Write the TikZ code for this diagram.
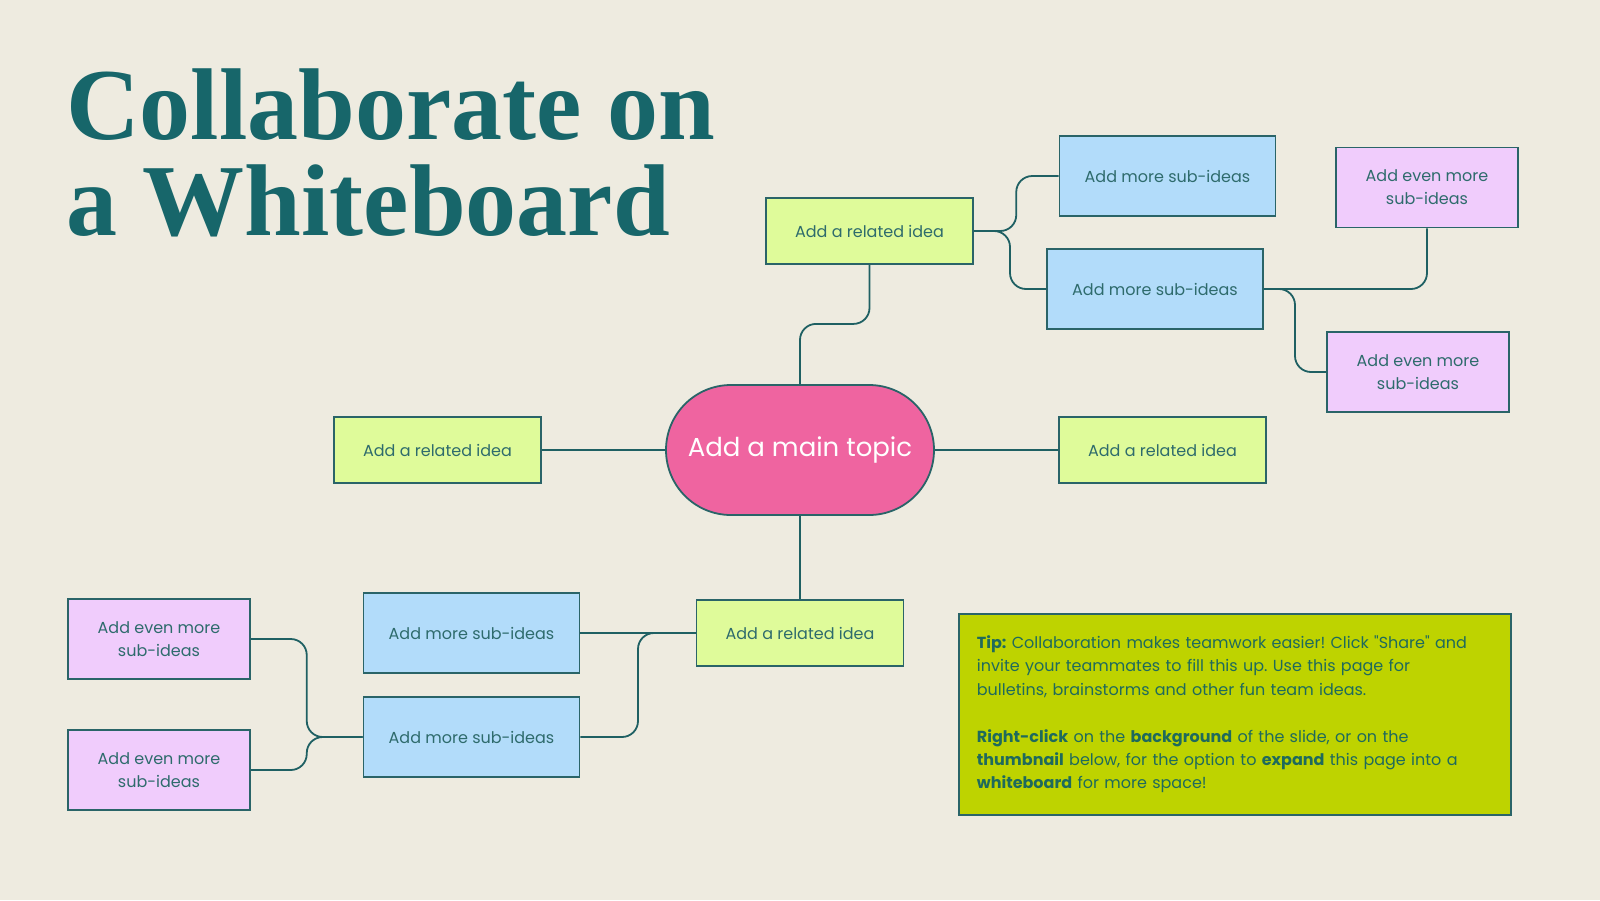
\documentclass[tikz,border=0pt]{standalone}
\usepackage{fontspec}
\setmainfont{Poppins}[Ligatures=TeXOff]
\newfontfamily\titlefont{Liberation Serif}
\usetikzlibrary{calc,shapes.misc}
\definecolor{bgc}{HTML}{EEEBE0}
\definecolor{titlec}{HTML}{17666A}
\definecolor{edgec}{HTML}{2A6468}
\definecolor{linec}{HTML}{1F6063}
\definecolor{txtc}{HTML}{2E6B6C}
\definecolor{relc}{HTML}{DFFB9A}
\definecolor{subc}{HTML}{B2DCFA}
\definecolor{evenc}{HTML}{F0CCFC}
\definecolor{mainc}{HTML}{EF64A0}
\definecolor{tipc}{HTML}{BED300}
\definecolor{tiptxt}{HTML}{1F6A5C}
\frenchspacing
\begin{document}
\begin{tikzpicture}[x=1pt,y=-1pt,
  box/.style={draw=edgec, line width=1.8pt, inner sep=0pt, text=txtc, align=center,
    font=\fontsize{16}{23}\selectfont},
  relbox/.style={box, fill=relc, minimum width=207pt, minimum height=66pt},
  subbox/.style={box, fill=subc, minimum width=216pt, minimum height=80pt},
  evenbox/.style={box, fill=evenc, minimum width=182pt, minimum height=80pt},
  conn/.style={draw=linec, line width=1.8pt, rounded corners=16pt},
  titletext/.style={anchor=base west, inner sep=0pt, text=titlec,
    font=\titlefont\bfseries\fontsize{102}{102}\selectfont}]
\useasboundingbox (0,0) rectangle (1600,900);
\fill[bgc] (0,0) rectangle (1600,900);

% title
\node[titletext] (t1) at (66,139) {Collaborate on};
\node[titletext] (t2) at (66,235) {a Whiteboard};

% nodes
\node[shape=rounded rectangle, draw=edgec, line width=1.8pt, fill=mainc,
  minimum width=268pt, minimum height=130pt, inner sep=0pt, text=white,
  font=\fontsize{26}{30}\selectfont] (main) at (800,450) {Add a main topic};

\node[relbox] (relT) at (869.5,231) {Add a related idea};
\node[relbox] (relL) at (437.5,450) {Add a related idea};
\node[relbox] (relR) at (1162.5,450) {Add a related idea};
\node[relbox] (relB) at (800,633) {Add a related idea};

\node[subbox] (subT1) at (1167.5,176) {Add more sub-ideas};
\node[subbox] (subT2) at (1155,289) {Add more sub-ideas};
\node[subbox] (subB1) at (471.5,633) {Add more sub-ideas};
\node[subbox] (subB2) at (471.5,737) {Add more sub-ideas};

\node[evenbox] (evT1) at (1427,187.5) {Add even more\\sub-ideas};
\node[evenbox] (evT2) at (1418,372) {Add even more\\sub-ideas};
\node[evenbox] (evB1) at (159,639) {Add even more\\sub-ideas};
\node[evenbox] (evB2) at (159,770) {Add even more\\sub-ideas};

% branch points (midway between parent and child)
\coordinate (m1) at ($(relT.east)!0.5!(subT1.west)$);
\coordinate (m2) at ($(relT.east)!0.5!(subT2.west)$);
\coordinate (m3) at ($(subT2.east)!0.5!(evT2.west)$);
\coordinate (m4) at ($(relB.west)!0.5!(subB2.east)$);
\coordinate (m5) at ($(subB2.west)!0.5!(evB1.east)$);
\coordinate (m6) at ($(subB2.west)!0.5!(evB2.east)$);

% connectors
\draw[conn] (relT.south) -- ++(0,59) -| (main.north);
\draw[conn] (relT.east) -- (relT.east -| m1) |- (subT1.west);
\draw[conn] (relT.east) -- (relT.east -| m2) |- (subT2.west);
\draw[conn] (subT2.east) -| (evT1.south);
\draw[conn] (subT2.east) -- (subT2.east -| m3) |- (evT2.west);
\draw[conn] (main.west) -- (relL.east);
\draw[conn] (main.east) -- (relR.west);
\draw[conn] (main.south) -- (relB.north);
\draw[conn] (relB.west) -- (subB1.east);
\draw[conn] (relB.west) -- (relB.west -| m4) |- (subB2.east);
\draw[conn] (subB2.west) -- (subB2.west -| m5) |- (evB1.east);
\draw[conn] (subB2.west) -- (subB2.west -| m6) |- (evB2.east);

% tip box
\node[draw=edgec, line width=1.8pt, fill=tipc, anchor=north west,
  minimum width=552pt, minimum height=201pt, inner xsep=18pt, inner ysep=0pt,
  text width=516pt, align=left, text=tiptxt,
  font=\fontsize{16}{23.4}\selectfont] (tip) at (958,613)
  {\textbf{Tip:} Collaboration makes teamwork easier! Click "Share" and\\
   invite your teammates to fill this up. Use this page for\\
   bulletins, brainstorms and other fun team ideas.\\[23.4pt]
   \textbf{Right-click} on the \textbf{background} of the slide, or on the\\
   \textbf{thumbnail} below, for the option to \textbf{expand} this page into a\\
   \textbf{whiteboard} for more space!};
\end{tikzpicture}
\end{document}
